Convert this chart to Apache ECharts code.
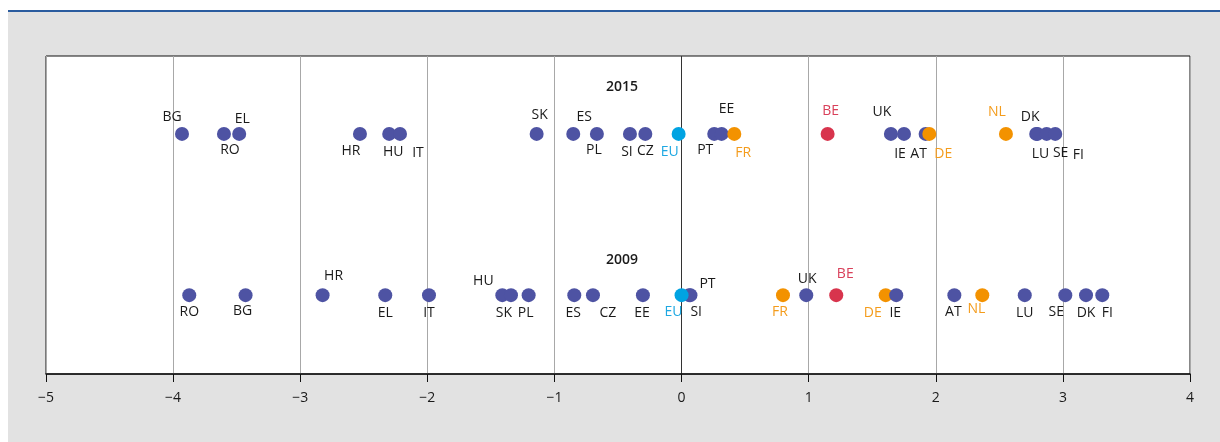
<!DOCTYPE html>
<html>
<head>
<meta charset="utf-8">
<script src="https://cdn.jsdelivr.net/npm/echarts@6/dist/echarts.min.js"></script>
<style>
    html, body { margin: 0; padding: 0; background: #fff; }
    #chart { width: 1220px; height: 442px; }
</style>
</head>
<body>
<div id="chart"></div>
<script>
    // values, one row per year
    var countries2015 = ['BG', 'RO', 'EL', 'HR', 'HU', 'IT', 'SK', 'ES', 'PL', 'SI', 'CZ', 'EU', 'PT', 'EE', 'FR',
        'BE', 'UK', 'IE', 'AT', 'DE', 'NL', 'DK', 'LU', 'SE', 'FI'];
    var values2015 = [-3.93, -3.60, -3.48, -2.53, -2.30, -2.215, -1.14, -0.852, -0.666, -0.406, -0.285, -0.023, 0.257, 0.315, 0.415,
        1.149, 1.647, 1.75, 1.92, 1.949, 2.552, 2.79, 2.80, 2.872, 2.94];

    var countries2009 = ['RO', 'BG', 'HR', 'EL', 'IT', 'HU', 'SK', 'PL', 'ES', 'CZ', 'EE', 'SI', 'PT', 'EU',
        'FR', 'UK', 'BE', 'DE', 'IE', 'AT', 'NL', 'LU', 'SE', 'DK', 'FI'];
    var values2009 = [-3.873, -3.43, -2.824, -2.331, -1.987, -1.41, -1.342, -1.203, -0.844, -0.697, -0.304, 0.06, 0.07, 0.0,
        0.798, 0.981, 1.217, 1.606, 1.689, 2.146, 2.366, 2.70, 3.019, 3.182, 3.31];

    var years = ['2015', '2009'];
    var xTicks = [-5, -4, -3, -2, -1, 0, 1, 2, 3, 4];

    // colour groups
    var groupOf = {EU: 'eu', FR: 'orange', DE: 'orange', NL: 'orange', BE: 'red'};
    var dotColor = {base: '#4e53a3', eu: '#00a3e2', orange: '#f39200', red: '#d8344d'};
    var textColor = {base: '#1a1a1a', eu: '#1ea8e2', orange: '#f49c1c', red: '#d9405a'};

    // label offsets from the dot centre, per row
    var labelOffset2015 = {
        BG: [-10, -17], RO: [6, 16], EL: [3, -15], HR: [-9, 17], HU: [4, 18], IT: [18, 19],
        SK: [3, -19], ES: [11, -17], PL: [-3, 16], SI: [-3, 18], CZ: [0, 17], EU: [-9, 18],
        PT: [-9, 16], EE: [5, -25], FR: [9, 19], BE: [3, -23], UK: [-9, -22], IE: [-4, 20],
        AT: [-7, 20], DE: [14, 20], NL: [-9, -22], DK: [-6, -17], LU: [3, 20], SE: [14, 19], FI: [23, 21]
    };
    var labelOffset2009 = {
        RO: [0, 17], BG: [-3, 16], HR: [11, -19], EL: [0, 18], IT: [0, 18], HU: [-19, -14],
        SK: [-7, 18], PL: [-3, 18], ES: [-1, 18], CZ: [15, 18], EE: [-1, 18], EU: [-8, 17],
        SI: [7, 17], PT: [17, -11], FR: [-3, 17], UK: [1, -16], BE: [9, -21], DE: [-13, 18],
        IE: [-1, 18], AT: [-1, 17], NL: [-6, 14], LU: [0, 18], SE: [-9, 17], DK: [0, 18], FI: [5, 18]
    };

    function buildRow(codes, values, rowY, offsets) {
        return codes.map(function (c, i) {
            var g = groupOf[c] || 'base';
            return {
                name: c,
                value: [values[i], rowY],
                itemStyle: {color: dotColor[g], opacity: 1},
                label: {offset: offsets[c], color: textColor[g]}
            };
        });
    }

    var chart = echarts.init(document.getElementById('chart'));
    var font = '"Open Sans", "Noto Sans", sans-serif';

    var rowLabel = {show: true, position: 'inside', formatter: '{b}', fontSize: 14, fontFamily: font, opacity: 1};

    var option = {
        animation: false,
        backgroundColor: '#fff',
        textStyle: {fontFamily: font},
        graphic: [
            {type: 'rect', z: -20, shape: {x: 8, y: 12, width: 1212, height: 430}, style: {fill: '#e2e2e2'}},
            {type: 'rect', z: -19, shape: {x: 8, y: 10, width: 1212, height: 2}, style: {fill: '#2b5c9f'}},
            {type: 'text', x: 622, y: 87, z: 10, style: {text: years[0], font: '600 14px ' + font, fill: '#1a1a1a', align: 'center', verticalAlign: 'middle'}},
            {type: 'text', x: 622, y: 260, z: 10, style: {text: years[1], font: '600 14px ' + font, fill: '#1a1a1a', align: 'center', verticalAlign: 'middle'}}
        ],
        grid: {
            left: 46, right: 30, top: 56, bottom: 68,
            show: true, backgroundColor: '#fff', borderColor: '#111', borderWidth: 1
        },
        xAxis: {
            type: 'value',
            min: xTicks[0], max: xTicks[xTicks.length - 1], interval: 1,
            axisLine: {show: true, onZero: false, lineStyle: {color: '#111', width: 1.5}},
            axisTick: {show: true, length: 8, lineStyle: {color: '#111'}},
            axisLabel: {
                margin: 17, color: '#1a1a1a', fontSize: 14, fontFamily: font,
                formatter: function (v) { return v < 0 ? '\u2212' + Math.abs(v) : String(v); }
            },
            splitLine: {
                show: true,
                lineStyle: {color: xTicks.map(function (t) { return t === 0 ? '#333' : '#a8a8a8'; }), width: 1}
            }
        },
        yAxis: {
            type: 'value', min: 0, max: 1,
            show: false
        },
        series: [
            {
                name: years[0], type: 'scatter', symbolSize: 14,
                itemStyle: {opacity: 1},
                data: buildRow(countries2015, values2015, 0.755, labelOffset2015),
                label: rowLabel
            },
            {
                name: years[1], type: 'scatter', symbolSize: 14,
                itemStyle: {opacity: 1},
                data: buildRow(countries2009, values2009, 0.248, labelOffset2009),
                label: rowLabel
            }
        ]
    };
    chart.setOption(option);
</script>
</body>
</html>
